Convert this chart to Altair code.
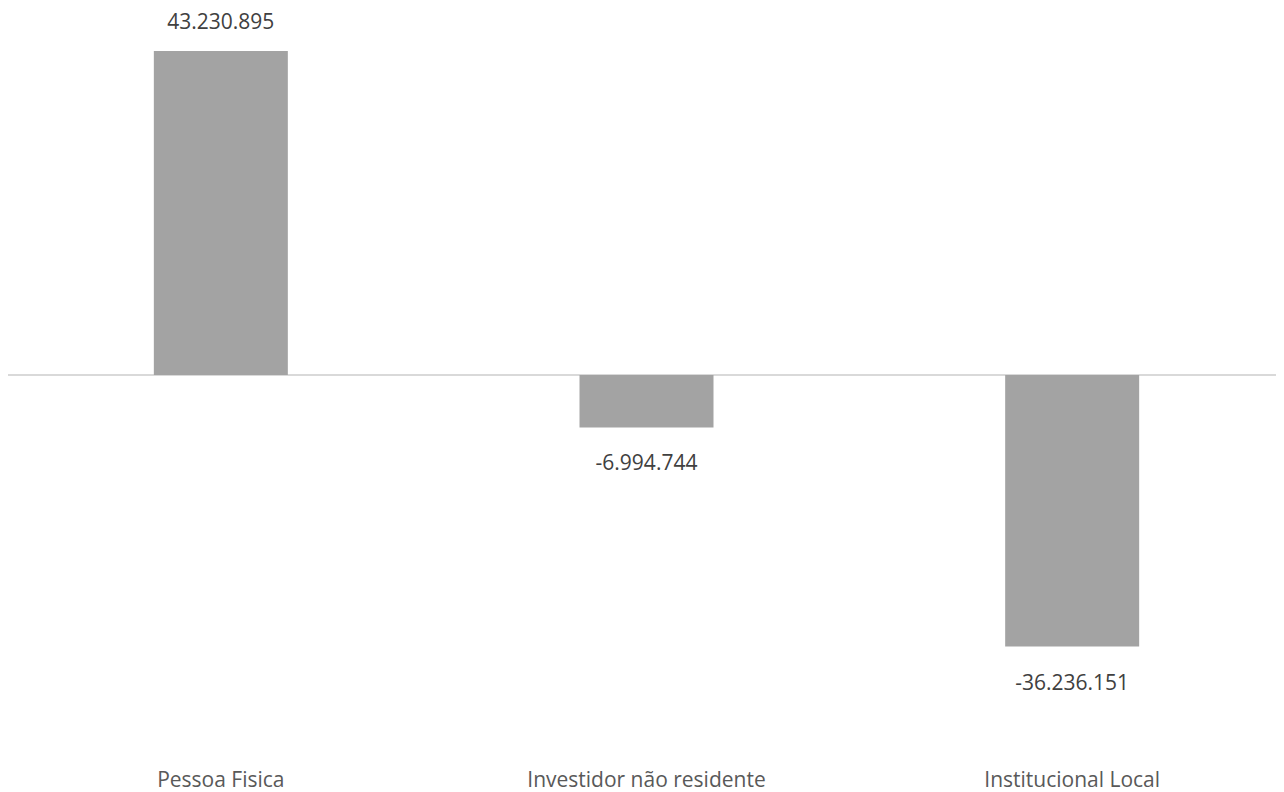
import altair as alt
import pandas as pd

categories = ["Pessoa Fisica", "Investidor não residente", "Institucional Local"]
values = [43230895, -6994744, -36236151]
labels = [f"{v:,}".replace(",", ".") for v in values]

df = pd.DataFrame({"cat": categories, "val": values, "lab": labels})

FONT = "Open Sans"
W, H = 1268, 742
YDOM = [-51370000, 47630000]

x = alt.X("cat:N", sort=categories,
          scale=alt.Scale(paddingInner=0, paddingOuter=0, range=[0, 1277]),
          axis=alt.Axis(title=None, labelAngle=0, domain=False, ticks=False,
                        labelFont=FONT, labelFontSize=21, labelColor="#595959",
                        labelPadding=9, labelBaseline="top", labelLimit=500))
y = alt.Y("val:Q", scale=alt.Scale(domain=YDOM, nice=False, zero=False), axis=None)

base = alt.Chart(df)

bars = base.mark_bar(color="#A3A3A3", width=134).encode(x=x, y=y, y2=alt.datum(0))

zero = alt.Chart(pd.DataFrame({"z": [0]})).mark_rule(color="#D9D9D9", strokeWidth=2).encode(
    y=alt.Y("z:Q", scale=alt.Scale(domain=YDOM, nice=False, zero=False), axis=None),
    x=alt.value(0), x2=alt.value(1280)
)

pos = base.transform_filter("datum.val >= 0").mark_text(
    font=FONT, fontSize=21, color="#404040", baseline="middle", dy=-28
).encode(x=x, y=y, text="lab:N")

neg = base.transform_filter("datum.val < 0").mark_text(
    font=FONT, fontSize=21, color="#404040", baseline="middle", dy=37
).encode(x=x, y=y, text="lab:N")

chart = alt.layer(zero, bars, pos, neg).properties(
    width=W, height=H,
    padding={"left": 0, "top": 10, "right": 0, "bottom": 40},
    autosize=alt.AutoSizeParams(type="none"),
    background="white",
).configure_view(stroke=None)

chart.save("out.html", embed_options={"renderer": "svg", "actions": False})
